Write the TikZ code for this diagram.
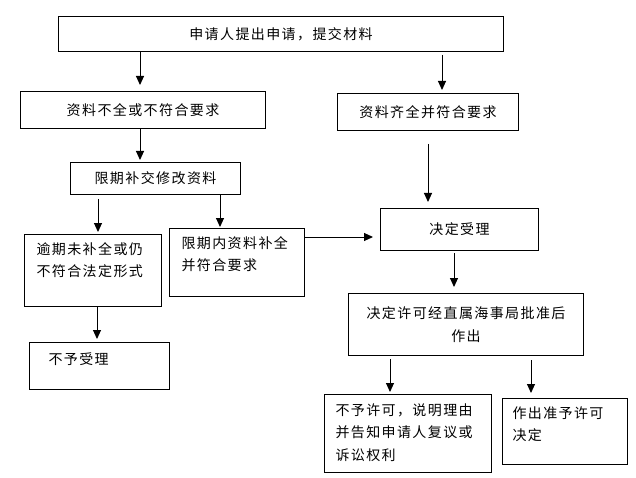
\documentclass[tikz,border=0pt]{standalone}
\usepackage{fontspec}
\setmainfont{Noto Sans CJK SC}[LetterSpace=10]
\usetikzlibrary{arrows.meta}
\newcommand{\tlbox}[5]{\parbox[c][#2pt][t]{#1pt}{\parindent=0pt\leftskip=#3pt\vspace*{#4pt}#5\par}}
\begin{document}
\begin{tikzpicture}[x=1pt,y=-1pt,
  every node/.style={font=\fontsize{14pt}{22.5pt}\selectfont},
  box/.style={draw, line width=1pt, anchor=north west, inner sep=0pt},
  cbox/.style={box, align=center},
  arr/.style={draw, line width=1pt, -{Triangle[width=8pt,length=9pt]}}]
\useasboundingbox (0,0) rectangle (636,478);
\node[cbox, minimum width=445pt, minimum height=35pt] (b1) at (58,16) {申请人提出申请，提交材料};
\node[cbox, minimum width=245pt, minimum height=37pt] (b2) at (20,91) {资料不全或不符合要求};
\node[cbox, minimum width=181pt, minimum height=37pt] (b3) at (337,93) {资料齐全并符合要求};
\node[cbox, minimum width=170pt, minimum height=32pt] (b4) at (70,162) {限期补交修改资料};
\node[box] (b5) at (24,234) {\tlbox{137}{72}{12}{8}{逾期未补全或仍\\不符合法定形式}};
\node[box] (b6) at (169,228) {\tlbox{135}{68}{12}{8}{限期内资料补全\\并符合要求}};
\node[cbox, minimum width=158pt, minimum height=42pt] (b7) at (380,208) {决定受理};
\node[cbox, minimum width=235pt, minimum height=62pt] (b8) at (348,293) {决定许可经直属海事局批准后\\作出};
\node[box] (b9) at (29,342) {\tlbox{140}{47}{19}{10}{不予受理}};
\node[box] (b10) at (324,394) {\tlbox{167}{78}{11}{9}{不予许可，说明理由\\并告知申请人复议或\\诉讼权利}};
\node[box] (b11) at (502,398) {\tlbox{125}{66}{10}{8}{作出准予许可\\决定}};
\draw[arr, shorten >=6pt] (b1.south -| 140,0) -- (b2.north -| 140,0);
\draw[arr, shorten <=3pt, shorten >=3pt] (b1.south -| 442,0) -- (b3.north -| 442,0);
\draw[arr, shorten >=2pt] (b2.south -| 140,0) -- (b4.north -| 140,0);
\draw[arr, shorten <=13pt, shorten >=6pt] (b3.south -| 428,0) -- (b7.north -| 428,0);
\draw[arr, shorten <=4pt, shorten >=2pt] (b4.south -| 98,0) -- (b5.north -| 98,0);
\draw[arr, shorten >=1pt] (b4.south -| 220,0) -- (b6.north -| 220,0);
\draw[arr, shorten >=7pt] (b6.east |- 0,237) -- (b7.west |- 0,237);
\draw[arr, shorten <=2pt, shorten >=6pt] (b7.south -| 454,0) -- (b8.north -| 454,0);
\draw[arr, shorten >=3pt] (b5.south -| 97,0) -- (b9.north -| 97,0);
\draw[arr, shorten <=3pt, shorten >=2pt] (b8.south -| 390,0) -- (b10.north -| 390,0);
\draw[arr, shorten <=4pt, shorten >=5pt] (b8.south -| 531,0) -- (b11.north -| 531,0);
\end{tikzpicture}
\end{document}
